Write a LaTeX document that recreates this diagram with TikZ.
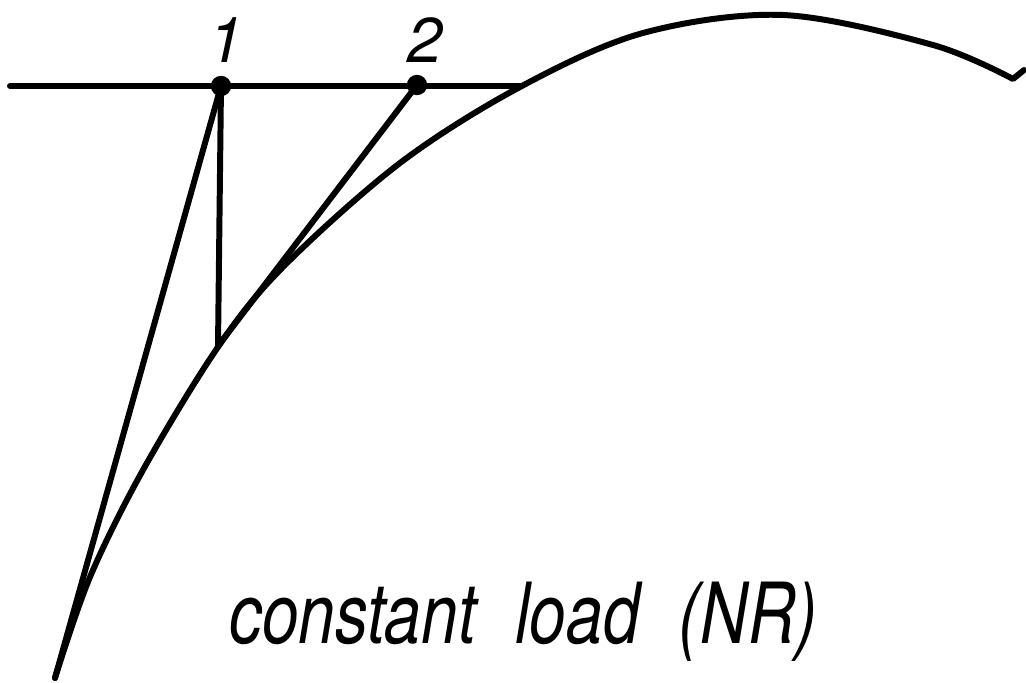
\documentclass[tikz,border=0pt]{standalone}
\usepackage{fontspec}
\setmainfont{TeX Gyre Heros}
\begin{document}
\begin{tikzpicture}[x=0.02cm,y=-0.02cm,
  ln/.style={line width=3.4pt, line cap=round, line join=round},
  dot/.style={circle, draw, fill=black, line width=3pt, inner sep=0pt, minimum size=0.3cm},
  lbl/.style={font=\fontsize{36}{40}\selectfont\itshape, anchor=base, inner sep=0pt},
  captext/.style={font=\fontsize{48}{52}\selectfont\itshape, anchor=base west, inner sep=0pt}]
\useasboundingbox (0,0) rectangle (1026,682);
% key coordinates
\coordinate (L) at (10,86);
\coordinate (H) at (520,86);
\coordinate (A) at (218,346);
\coordinate (B) at (55,678);
% curve
\draw[ln] plot[smooth, tension=0.55] coordinates {(55,678) (90,577) (143,470) (218,347) (283,267) (400,163) (520,87) (643,33) (783,15) (933,45) (1013,79)} -- (1024,70);
% horizontal line
\draw[ln] (L) -- (H);
% points
\node[dot] (p1) at (221,86) {};
\node[dot] (p2) at (417,85) {};
% connectors
\draw[ln] (p1.center) -- (B);
\draw[ln] (p1.center) -- (A);
\draw[ln] (p2.center) -- (A);
% labels
\node[lbl] (l1) at (226,63) {1};
\node[lbl] (l2) at (425,63) {2};
\node[captext] (c) at (229,643) {\scalebox{0.78}[1]{constant\hspace{1.0cm}load\hspace{1.0cm}(NR)}};
\end{tikzpicture}
\end{document}
